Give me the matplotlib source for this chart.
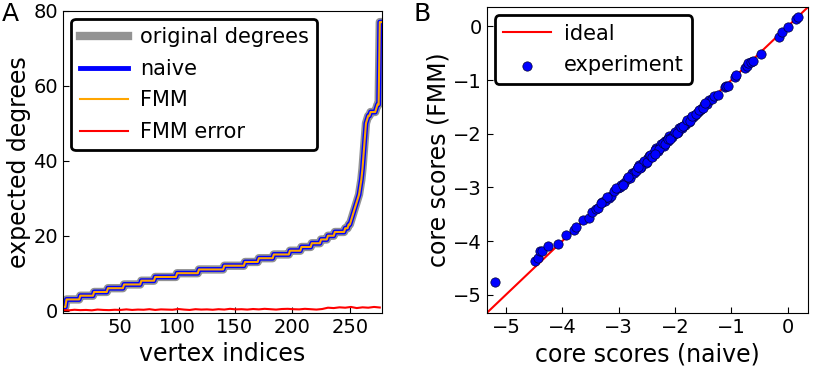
import numpy as np
import matplotlib
matplotlib.use('Agg')
import matplotlib.pyplot as plt

# --- panel A: sorted degree sequence as (degree, run length) plus tail ---
deg_levels = [1, 3, 4, 5, 6, 7, 8, 9, 10, 11, 12, 13, 14, 15, 16, 17, 18, 19, 20, 21]
deg_counts = [3, 12, 12, 12, 14, 15, 12, 19, 19, 22, 18, 12, 13, 14, 10, 9, 8, 6, 6, 9]
deg_tail = [22, 22, 22, 23, 23, 24, 25, 26, 27, 28, 29, 30, 31, 33, 35, 38, 42, 46,
            50, 51, 52, 52, 53, 53, 53, 53, 53, 54, 55, 55, 77, 77]

# FMM error, sampled every 5 vertices
err_idx = list(range(1, 278, 5))
err_vals = [0.2, 0.1, 0.25, 0.15, 0.2, 0.1, 0.3, 0.2, 0.15, 0.25, 0.2, 0.35, 0.2,
            0.3, 0.25, 0.4, 0.2, 0.35, 0.3, 0.25, 0.45, 0.3, 0.2, 0.4, 0.3, 0.35,
            0.25, 0.4, 0.3, 0.5, 0.35, 0.4, 0.3, 0.45, 0.35, 0.5, 0.4, 0.3, 0.45,
            0.5, 0.4, 0.35, 0.5, 0.4, 0.3, 0.45, 0.8, 0.7, 0.9, 0.8, 1.0, 0.7, 0.9,
            0.8, 1.0, 0.85]

# --- panel B: core scores ---
naive = [-5.19, -4.49, -4.43, -4.40, -4.36, -4.25, -4.07, -3.93, -3.79, -3.75,
         -3.63, -3.52, -3.48, -3.40, -3.36, -3.29, -3.25, -3.17, -3.13, -3.08,
         -3.01, -2.98, -2.95, -2.90, -2.86, -2.80, -2.76, -2.72, -2.68, -2.64,
         -2.60, -2.57, -2.52, -2.48, -2.46, -2.42, -2.38, -2.33, -2.30, -2.27,
         -2.24, -2.20, -2.17, -2.15, -2.12, -2.10, -2.05, -2.02, -1.98, -1.95,
         -1.92, -1.88, -1.83, -1.80, -1.76, -1.72, -1.68, -1.64, -1.60, -1.55,
         -1.53, -1.48, -1.44, -1.39, -1.35, -1.30, -1.24, -1.12, -1.10, -1.06,
         -0.93, -0.91, -0.75, -0.72, -0.70, -0.65, -0.62, -0.47, -0.15, -0.10,
         0.00, 0.15, 0.18,
         -3.05, -2.93, -2.83, -2.70, -2.62, -2.55, -2.50, -2.44, -2.40, -2.35,
         -2.28, -2.22, -2.18, -2.13, -2.08, -2.00, -1.96, -1.90, -1.85, -1.78,
         -1.74, -1.70, -1.62, -1.58, -1.50, -1.46, -3.20, -3.32, -2.66, -2.36]
fmm = [-4.77, -4.38, -4.31, -4.19, -4.19, -4.09, -4.06, -3.88, -3.80, -3.73,
       -3.61, -3.57, -3.46, -3.41, -3.38, -3.27, -3.26, -3.19, -3.16, -3.06,
       -3.01, -2.99, -2.96, -2.92, -2.85, -2.82, -2.73, -2.74, -2.66, -2.59,
       -2.62, -2.54, -2.54, -2.46, -2.41, -2.44, -2.36, -2.27, -2.32, -2.25,
       -2.19, -2.22, -2.14, -2.11, -2.13, -2.05, -2.07, -2.00, -1.99, -1.96,
       -1.90, -1.89, -1.83, -1.80, -1.78, -1.71, -1.68, -1.66, -1.59, -1.56,
       -1.54, -1.47, -1.45, -1.37, -1.36, -1.29, -1.27, -1.12, -1.11, -1.11,
       -0.94, -0.90, -0.78, -0.74, -0.69, -0.67, -0.65, -0.51, -0.19, -0.10,
       -0.01, 0.14, 0.17,
       -3.02, -2.96, -2.80, -2.70, -2.64, -2.51, -2.52, -2.40, -2.43, -2.31,
       -2.29, -2.18, -2.20, -2.10, -2.10, -1.97, -1.98, -1.87, -1.86, -1.75,
       -1.76, -1.67, -1.63, -1.55, -1.52, -1.43, -3.17, -3.30, -2.62, -2.38]

degrees = np.concatenate([np.repeat(deg_levels, deg_counts), deg_tail])
vidx = np.arange(1, len(degrees) + 1)

plt.rcParams['font.family'] = 'DejaVu Sans'
fig = plt.figure(figsize=(8.14, 3.73), dpi=100)

# panel A
ax1 = fig.add_axes([0.0774, 0.161, 0.392, 0.810])
ax1.plot(vidx, degrees, color='gray', lw=6, alpha=0.85, label='original degrees')
ax1.plot(vidx, degrees, color='blue', lw=3.5, label='naive')
ax1.plot(vidx, degrees, color='orange', lw=1.5, label='FMM')
ax1.plot(err_idx, err_vals, color='red', lw=1.5, label='FMM error')
ax1.set_xlim(1, 278)
ax1.set_ylim(-0.6, 80)
ax1.set_xticks([50, 100, 150, 200, 250])
ax1.set_yticks([0, 20, 40, 60, 80])
ax1.set_xlabel('vertex indices', fontsize=17, labelpad=4)
ax1.set_ylabel('expected degrees', fontsize=17, labelpad=2)
leg = ax1.legend(loc='upper left', fontsize=15, handlelength=2.3, handletextpad=0.6,
                 framealpha=1, borderaxespad=0.4, labelspacing=0.55)
leg.get_frame().set_edgecolor('black')
leg.get_frame().set_linewidth(2)

# panel B
ax2 = fig.add_axes([0.598, 0.161, 0.3946, 0.820])
lims = (-5.34, 0.36)
ax2.plot(lims, lims, color='red', lw=1.5, label='ideal', zorder=1)
ax2.scatter(naive, fmm, s=45, color='blue', edgecolors='#000033', linewidths=0.5,
            label='experiment', zorder=2)
ax2.set_xlim(lims)
ax2.set_ylim(lims)
ax2.set_xticks([-5, -4, -3, -2, -1, 0])
ax2.set_yticks([-5, -4, -3, -2, -1, 0])
ax2.set_xlabel('core scores (naive)', fontsize=17, labelpad=4)
ax2.set_ylabel('core scores (FMM)', fontsize=17, labelpad=2)
leg2 = ax2.legend(loc='upper left', fontsize=15, handlelength=2.3, handletextpad=0.6,
                  framealpha=1, borderaxespad=0.4, labelspacing=0.55)
leg2.get_frame().set_edgecolor('black')
leg2.get_frame().set_linewidth(2)

for ax in (ax1, ax2):
    ax.tick_params(direction='in', labelsize=14, length=4)

fig.text(0.002, 0.995, 'A', fontsize=18, va='top')
fig.text(0.508, 0.995, 'B', fontsize=18, va='top')

fig.savefig('out.png', dpi=100)
